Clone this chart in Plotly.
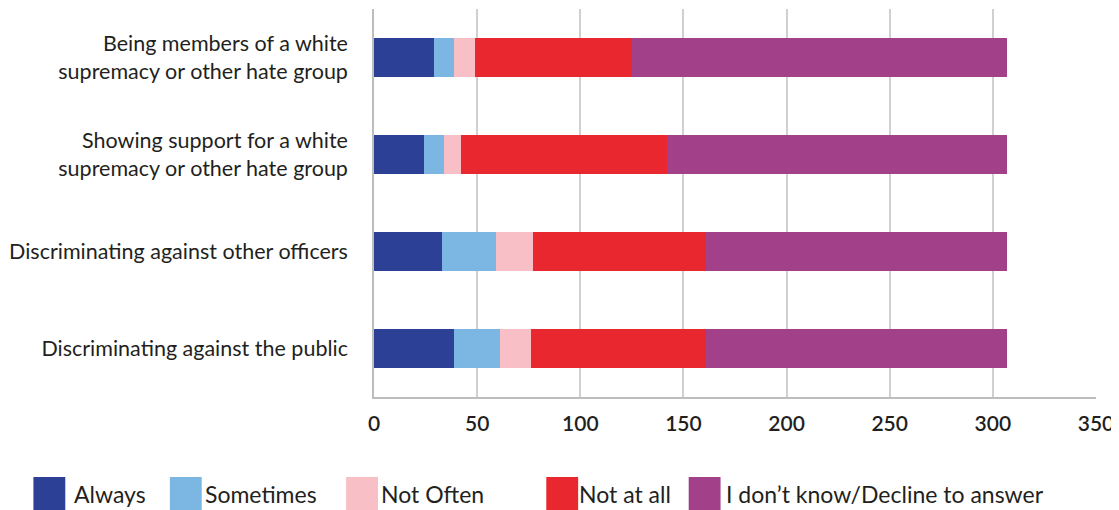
import plotly.graph_objects as go

categories = [
    "Being members of a white<br>supremacy or other hate group",
    "Showing support for a white<br>supremacy or other hate group",
    "Discriminating against other officers",
    "Discriminating against the public",
]
series_names = ["Always", "Sometimes", "Not Often", "Not at all", "I don\u2019t know/Decline to answer"]
always = [29, 24, 33, 39]
sometimes = [10, 10, 26, 22]
not_often = [10, 8, 18, 15]
not_at_all = [76, 100, 84, 85]
dont_know = [182, 165, 146, 146]
colors = ["#2C4195", "#7CB6E2", "#F9BFC6", "#E8272E", "#A24089"]
x_ticks = [0, 50, 100, 150, 200, 250, 300, 350]

values = [always, sometimes, not_often, not_at_all, dont_know]

# page offset (browser body margin)
OFF = 8
WIN_W, WIN_H = 1119, 510
W, H = WIN_W, WIN_H - OFF
# plot area in window pixels
PX0, PX1, PY0, PY1 = 371, 1096, 9, 397
ML, MR, MT, MB = PX0 - OFF, (W + OFF) - PX1, PY0 - OFF, (H + OFF) - PY1
FONT = "Lato"
TXT = "#231F20"

fig = go.Figure()
for name, vals, col in zip(series_names, values, colors):
    fig.add_trace(go.Bar(
        y=categories, x=vals, name=name, orientation="h",
        marker=dict(color=col, line=dict(width=0)), showlegend=False,
    ))

fig.update_layout(
    width=W, height=H, barmode="stack", bargap=0.6,
    margin=dict(l=ML, r=MR, t=MT, b=MB, pad=0),
    plot_bgcolor="white", paper_bgcolor="white",
    font=dict(family=FONT, color=TXT),
    xaxis=dict(
        range=[0, 350], tickvals=x_ticks, showgrid=True, gridcolor="#D0D0D0", gridwidth=1.5,
        showline=True, linecolor="#BDBDBD", linewidth=1.5, zeroline=False,
        ticks="", ticklabelstandoff=7,
        tickfont=dict(size=21, family=FONT, color=TXT, weight=600),
    ),
    yaxis=dict(
        categoryorder="array", categoryarray=categories, autorange="reversed",
        showline=True, linecolor="#BDBDBD", linewidth=1.5, showgrid=False,
        ticks="", ticklabelstandoff=20,
        tickfont=dict(size=21.5, family=FONT, color=TXT),
    ),
)

pw, ph = PX1 - PX0, PY1 - PY0

def px_to_paper_x(px):
    return (px - PX0) / pw

def px_to_paper_y(py):
    return (PY1 - py) / ph

legend_sq = [29, 166, 343, 544, 687]
legend_tx = [68, 199, 376, 575, 722]
sq_w = 32
sq_top, sq_bot = 477, 510
for name, col, sx, tx in zip(series_names, colors, legend_sq, legend_tx):
    fig.add_shape(type="rect", xref="paper", yref="paper",
                  x0=px_to_paper_x(sx), x1=px_to_paper_x(sx + sq_w),
                  y0=px_to_paper_y(sq_bot), y1=px_to_paper_y(sq_top),
                  fillcolor=col, line=dict(width=0))
    fig.add_annotation(xref="paper", yref="paper", x=px_to_paper_x(tx), y=px_to_paper_y(494),
                       text=name, showarrow=False, xanchor="left", yanchor="middle",
                       font=dict(size=23, family=FONT, color=TXT))

fig.write_html("out.html")
